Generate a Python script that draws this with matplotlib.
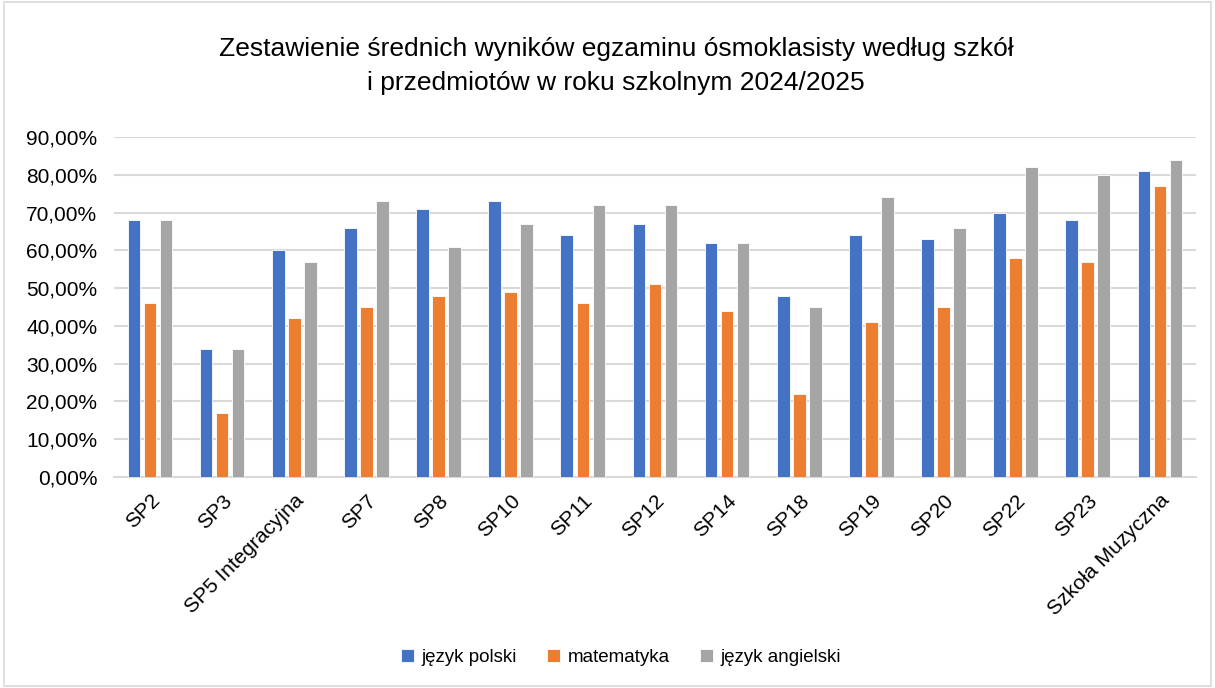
import matplotlib
matplotlib.use("Agg")
import matplotlib.pyplot as plt
import numpy as np
from matplotlib.ticker import FuncFormatter

plt.rcParams['font.family'] = ['Liberation Sans', 'DejaVu Sans']

categories = ["SP2", "SP3", "SP5 Integracyjna", "SP7", "SP8", "SP10", "SP11", "SP12",
              "SP14", "SP18", "SP19", "SP20", "SP22", "SP23", "Szkoła Muzyczna"]
polski = [68, 34, 60, 66, 71, 73, 64, 67, 62, 48, 64, 63, 70, 68, 81]
matematyka = [46, 17, 42, 45, 48, 49, 46, 51, 44, 22, 41, 45, 58, 57, 77]
angielski = [68, 34, 57, 73, 61, 67, 72, 72, 62, 45, 74, 66, 82, 80, 84]
series_names = ["język polski", "matematyka", "język angielski"]
colors = ["#4472C4", "#ED7D31", "#A5A5A5"]
title = "Zestawienie średnich wyników egzaminu ósmoklasisty według szkół\ni przedmiotów w roku szkolnym 2024/2025"

fig = plt.figure(figsize=(12.15, 6.88), dpi=100)
ax = fig.add_axes([0.0938, 0.3067, 0.8905, 0.4942])

x = np.arange(len(categories))
w = 0.175
off = 0.222
for i, (vals, name, c) in enumerate(zip([polski, matematyka, angielski], series_names, colors)):
    ax.bar(x + (i - 1) * off, vals, width=w, color=c, label=name, zorder=3,
           edgecolor='white', linewidth=0.6)

ax.set_xlim(-0.5, len(categories) - 0.5)
ax.set_ylim(0, 90)
ax.set_yticks(np.arange(0, 91, 10))
ax.yaxis.set_major_formatter(FuncFormatter(lambda v, p: f"{v:.2f}%".replace(".", ",")))
ax.grid(axis='y', color='#D9D9D9', linewidth=1.5, zorder=0)
for s in ['top', 'right', 'left']:
    ax.spines[s].set_visible(False)
ax.spines['bottom'].set_color('#D9D9D9')
ax.spines['bottom'].set_linewidth(1.5)
ax.tick_params(axis='both', length=0, labelsize=15, colors='black')
ax.tick_params(axis='y', pad=12)
ax.set_xticks(x)
ax.set_xticklabels(categories, rotation=45, ha='right', rotation_mode='anchor')
ax.tick_params(axis='x', pad=10)

fig.text(0.507, 0.904, title, ha='center', va='center', fontsize=19, linespacing=1.55)

fig.legend(loc='center', bbox_to_anchor=(0.511, 0.044), ncol=3, frameon=False,
           fontsize=13.5, handlelength=0.7, handleheight=0.7, handletextpad=0.4,
           columnspacing=1.6)

fig.patches.append(plt.Rectangle((0.003, 0.003), 0.994, 0.994, transform=fig.transFigure,
                                 fill=False, edgecolor='#D9D9D9', linewidth=1.2))

fig.savefig("out.png", dpi=100)
